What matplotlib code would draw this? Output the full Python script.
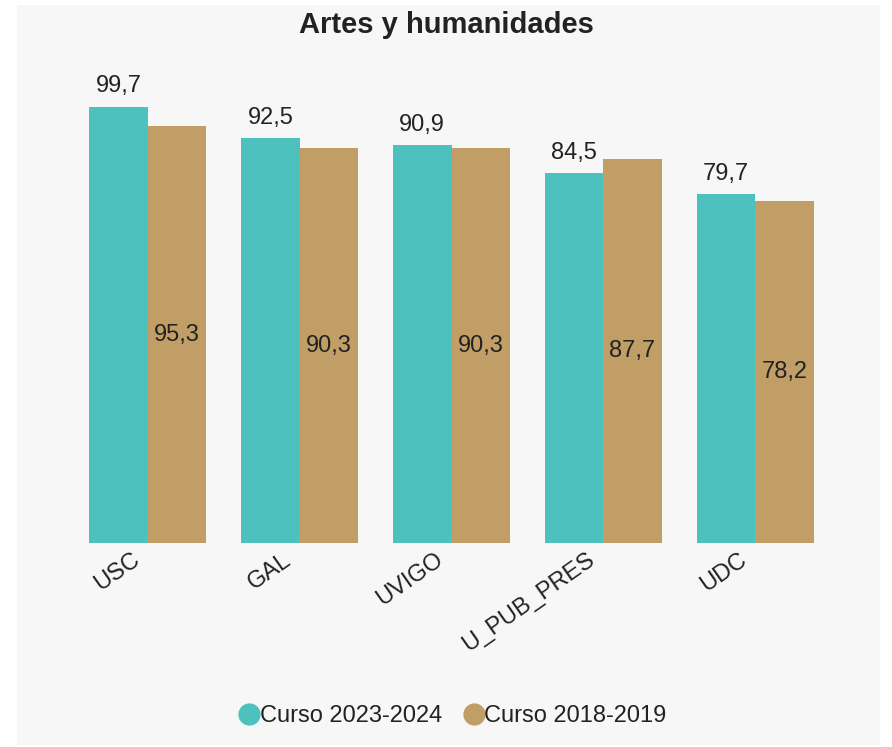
import numpy as np
import matplotlib.pyplot as plt
import matplotlib.transforms as mtransforms
from matplotlib.patches import Rectangle
from matplotlib.lines import Line2D

# Data
universidades = ["USC", "GAL", "UVIGO", "U_PUB_PRES", "UDC"]
curso_2023 = [99.7, 92.5, 90.9, 84.5, 79.7]
curso_2018 = [95.3, 90.3, 90.3, 87.7, 78.2]
series_names = ["Curso 2023-2024", "Curso 2018-2019"]

teal = "#4cc1bd"
tan = "#c09e66"
txt = "#222222"

plt.rcParams["font.family"] = ["Liberation Sans", "DejaVu Sans"]

fig = plt.figure(figsize=(8.92, 7.47), dpi=100)
fig.patch.set_facecolor("white")
# gray panel behind the chart
fig.patches.append(Rectangle((17 / 892, 2 / 747), 863 / 892, 740 / 747,
                             transform=fig.transFigure, facecolor="#f7f7f7",
                             edgecolor="none", zorder=-5))

ax = fig.add_axes([72 / 892, 204 / 747, 759 / 892, 503 / 747])
ax.set_facecolor("none")
ax.set_zorder(2)

x = np.arange(len(universidades))
w = 0.385
b1 = ax.bar(x - w / 2, curso_2023, w, color=teal, label=series_names[0])
b2 = ax.bar(x + w / 2, curso_2018, w, color=tan, label=series_names[1])

fmt = lambda v: f"{v:.1f}".replace(".", ",")
ax.bar_label(b1, labels=[fmt(v) for v in curso_2023], padding=7,
             fontsize=17, color=txt)
ax.bar_label(b2, labels=[fmt(v) for v in curso_2018], label_type="center",
             fontsize=17, color=txt)

ax.set_xlim(-0.5, len(universidades) - 0.5)
ax.set_ylim(0, 115)
ax.set_yticks([])
ax.set_xticks(x)
ax.set_xticklabels(universidades, rotation=35, ha="right",
                   rotation_mode="anchor", fontsize=17, color=txt)
ax.tick_params(axis="x", length=0, pad=4)
# move the rotated labels a little to the left
shift = mtransforms.ScaledTranslation(-17 / 100, 0, fig.dpi_scale_trans)
for lab in ax.get_xticklabels():
    lab.set_transform(lab.get_transform() + shift)
for s in ax.spines.values():
    s.set_visible(False)

fig.text(0.5, 1 - 25 / 747, "Artes y humanidades", ha="center", va="center",
         fontsize=21, fontweight="bold", color=txt)

handles = [Line2D([], [], marker="o", linestyle="none", markersize=15,
                  markerfacecolor=c, markeredgecolor=c) for c in (teal, tan)]
fig.legend(handles, series_names, loc="center", bbox_to_anchor=(0.5, 1 - 716 / 747),
           ncol=2, frameon=False, fontsize=17, handletextpad=-0.55,
           columnspacing=0.35, labelcolor=txt)

fig.savefig("out.png", dpi=100)
